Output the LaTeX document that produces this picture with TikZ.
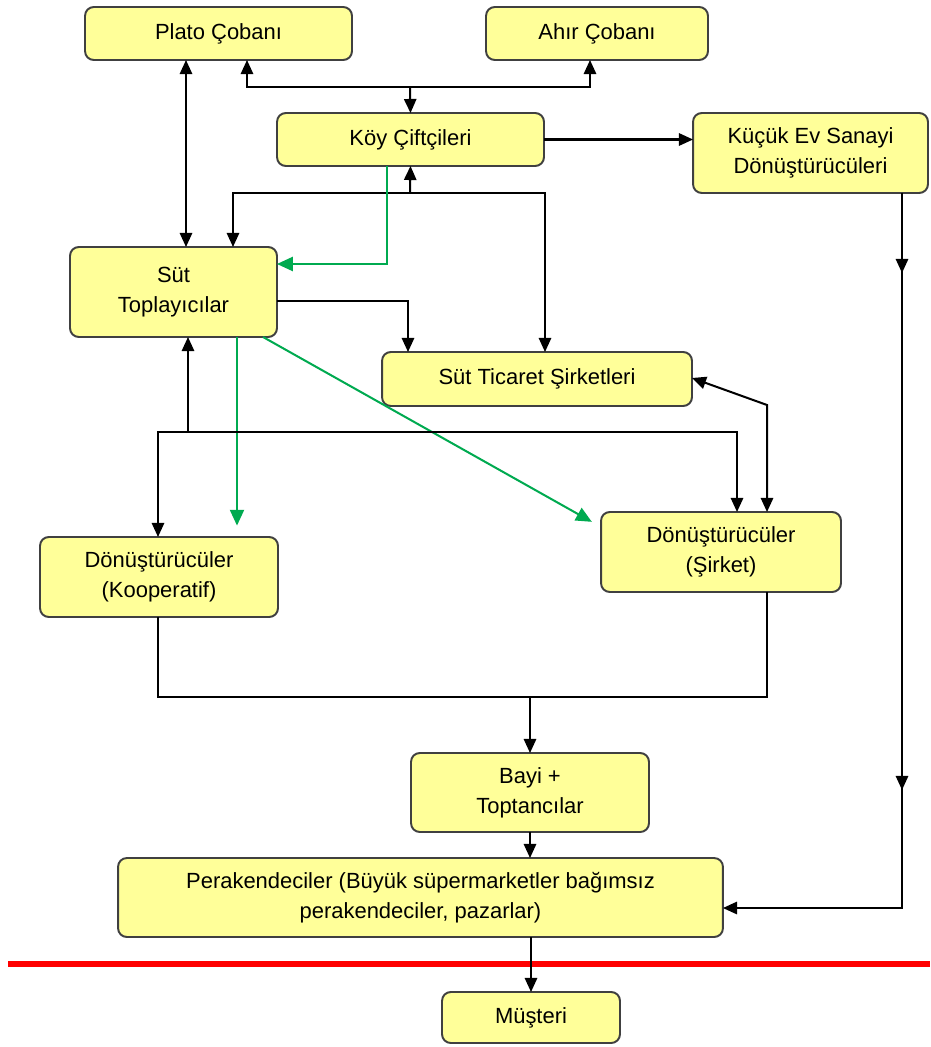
\documentclass[tikz,border=0pt]{standalone}
\usepackage{fontspec}
\setmainfont{Liberation Sans}
\usetikzlibrary{arrows.meta,positioning}

\definecolor{boxfill}{RGB}{255,255,153}
\definecolor{flowgreen}{RGB}{0,170,80}

\begin{document}
\begin{tikzpicture}[x=0.02cm,y=-0.02cm,>={Triangle[length=8pt,width=7pt]},line width=1.15pt,
    box/.style={rectangle,rounded corners=5pt,draw=black!75,line width=1.1pt,fill=boxfill,align=center,inner sep=0pt,outer sep=0pt,font=\fontsize{12.5}{17}\selectfont},
    green flow/.style={->,color=flowgreen,>={Triangle[length=9pt,width=8pt]}},
    red line/.style={color=red,line width=3.4pt}]

    \useasboundingbox (0,0) rectangle (930,1047);

    \node[box,minimum width=5.34cm,minimum height=1.06cm] (plato) at (218.5,33.5) {Plato Çobanı};
    \node[box,minimum width=4.44cm,minimum height=1.06cm] (ahir) at (597,33.5) {Ahır Çobanı};
    \node[box,minimum width=5.34cm,minimum height=1.06cm] (koy) at (410.5,139.5) {Köy Çiftçileri};
    \node[box,minimum width=4.7cm,minimum height=1.6cm] (kucuk) at (810.5,153) {Küçük Ev Sanayi\\Dönüştürücüleri};
    \node[box,minimum width=4.14cm,minimum height=1.8cm] (toplayici) at (173.5,292) {Süt\\Toplayıcılar};
    \node[box,minimum width=6.2cm,minimum height=1.08cm] (ticaret) at (537,379) {Süt Ticaret Şirketleri};
    \node[box,minimum width=4.8cm,minimum height=1.6cm] (sirket) at (721,552) {Dönüştürücüler\\(Şirket)};
    \node[box,minimum width=4.76cm,minimum height=1.6cm] (koop) at (159,577) {Dönüştürücüler\\(Kooperatif)};
    \node[box,minimum width=4.76cm,minimum height=1.58cm] (bayi) at (530,792.5) {Bayi +\\Toptancılar};
    \node[box,minimum width=12.1cm,minimum height=1.58cm] (perakende) at (420.5,897.5) {Perakendeciler (Büyük süpermarketler bağımsız\\perakendeciler, pazarlar)};
    \node[box,minimum width=3.56cm,minimum height=1.02cm] (musteri) at (531,1017.5) {Müşteri};

    \coordinate (cobanlar) at (410,87);
    \coordinate (koyalt) at (410,193);
    \coordinate (dagitim) at (188,432);
    \coordinate (kirilma) at (767,405);
    \coordinate (birlesim) at (530,697);
    \coordinate (k1) at (902,273);
    \coordinate (k2) at (902,790);

    \draw[<->] (plato.south -| 186,0) -- (toplayici.north -| 186,0);
    \draw[<->] (plato.south -| 247,0) |- (cobanlar) -| (ahir.south -| 590,0);
    \draw[->] (cobanlar) -- (koy.north);
    \draw[->] (koy.east) -- (koy.east -| kucuk.west);

    \draw[<->] (toplayici.north -| 233,0) |- (koyalt) -| (ticaret.north -| 545,0);
    \draw[->] (koyalt) -- (koy.south);
    \draw[green flow] (koy.south -| 387,0) |- (toplayici.east |- 0,264);
    \draw[->] (toplayici.east |- 0,301) -| (ticaret.north -| 408,0);

    \draw[green flow,shorten >=6.5pt] (toplayici.south -| 237,0) -- (koop.north -| 237,0);
    \draw[green flow,shorten >=6pt] (toplayici.south -| 263,0) -- (sirket.west |- 0,527);

    \draw[->] (dagitim) -- (toplayici.south -| 188,0);
    \draw[<->] (koop.north -| 158,0) |- (dagitim) -| (sirket.north -| 737,0);
    \draw[<->] (ticaret.east |- 0,378) -- (kirilma) -- (sirket.north -| 767,0);

    \draw (koop.south -| 158,0) |- (birlesim) -| (sirket.south -| 767,0);
    \draw[->] (birlesim) -- (bayi.north);
    \draw[->] (bayi.south) -- (perakende.north -| bayi.south);

    \draw[->] (kucuk.south -| 902,0) |- (perakende.east |- 0,908);
    \draw[->] (kucuk.south -| 902,0) -- (k1);
    \draw[->] (k1) -- (k2);

    \draw[red line] (8,964) -- (930,964);
    \draw[->] (perakende.south -| musteri.north) -- (musteri.north);

\end{tikzpicture}
\end{document}
